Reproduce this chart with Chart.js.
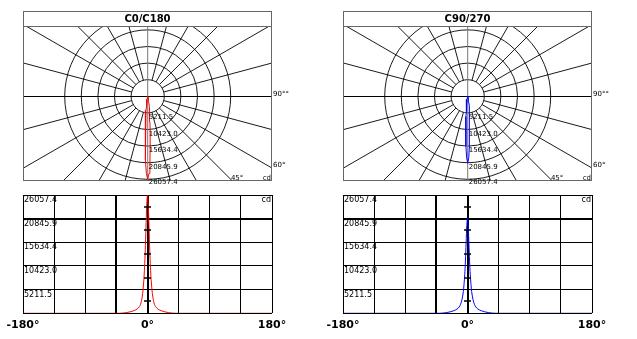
<!DOCTYPE html>
<html>
<head>
<meta charset="utf-8">
<script src="https://cdn.jsdelivr.net/npm/chart.js@4.4.0/dist/chart.umd.min.js"></script>
<style>
  html, body { margin: 0; padding: 0; background: #fff; }
  body { width: 637px; height: 339px; position: relative; overflow: hidden; }
  canvas { position: absolute; }
</style>
</head>
<body>
<canvas id="polarC0" width="275" height="180" style="left:20px;top:8px"></canvas>
<canvas id="polarC90" width="275" height="180" style="left:340px;top:8px"></canvas>
<canvas id="gammaC0" width="320" height="151" style="left:0;top:188px"></canvas>
<canvas id="gammaC90" width="320" height="151" style="left:320px;top:188px"></canvas>
<script>
const FONT = 'DejaVu Sans';

// gamma angles (deg), negative side = C180 / C270
const gammaAngles = [-180, -90, -60, -45, -40, -35, -30, -25, -20, -15, -12, -10, -8, -7, -6, -5, -4, -3, -2, -1,
  0, 1, 2, 3, 4, 5, 6, 7, 8, 10, 12, 15, 20, 25, 30, 35, 40, 45, 60, 90, 180];

// luminous intensity, cd
const intensityC0 = [0, 0, 0, 0, 10, 60, 160, 330, 560, 950, 1400, 2000, 3300, 4400, 6000, 8000, 11000, 15000, 20000, 24200,
  26057.4, 24200, 20000, 15000, 11000, 8000, 6000, 4400, 3300, 2000, 1400, 950, 560, 330, 160, 60, 10, 0, 0, 0, 0];
const intensityC90 = [0, 0, 0, 0, 10, 60, 160, 330, 560, 950, 1400, 2000, 3000, 3800, 4800, 6400, 8500, 11500, 15500, 19300,
  21000, 19300, 15500, 11500, 8500, 6400, 4800, 3800, 3000, 2000, 1400, 950, 560, 330, 160, 60, 10, 0, 0, 0, 0];

const ringValues = [5211.48, 10422.96, 15634.44, 20845.92, 26057.4];
const cdTicks = [0, 5211.48, 10422.96, 15634.44, 20845.92, 26057.4];
const gammaTicks = [-180, -135, -90, -45, 0, 45, 90, 135, 180];
const gammaTickLabels = ['-180°', '', '', '', '0°', '', '', '', '180°'];

// polar grid: rings, 15° spokes, axes, value labels and frame
const polarGrid = {
  id: 'polarGrid',
  beforeDatasetsDraw(chart) {
    const { ctx, chartArea: a, scales: { x, y } } = chart;
    const cx = x.getPixelForValue(0);
    const cy = y.getPixelForValue(0);
    const rad = v => x.getPixelForValue(v) - cx;
    ctx.save();
    ctx.beginPath();
    ctx.rect(a.left, a.top, a.width, a.height);
    ctx.clip();
    ctx.strokeStyle = '#000';
    ctx.lineWidth = 0.9;
    ringValues.forEach(v => {
      ctx.beginPath();
      ctx.arc(cx, cy, rad(v), 0, Math.PI * 2);
      ctx.stroke();
    });
    const r0 = rad(ringValues[0]);
    for (let deg = 15; deg < 360; deg += 15) {
      if (deg % 90 === 0) continue;
      const t = deg * Math.PI / 180;
      ctx.beginPath();
      ctx.moveTo(cx + r0 * Math.cos(t), cy + r0 * Math.sin(t));
      ctx.lineTo(cx + 400 * Math.cos(t), cy + 400 * Math.sin(t));
      ctx.stroke();
    }
    ctx.lineWidth = 1;
    const hy = Math.round(cy) + 0.5;
    ctx.beginPath();
    ctx.moveTo(a.left, hy);
    ctx.lineTo(a.right, hy);
    ctx.stroke();
    ctx.strokeStyle = '#777';
    ctx.beginPath();
    ctx.moveTo(cx, a.top);
    ctx.lineTo(cx, a.bottom);
    ctx.stroke();
    ctx.restore();
  },
  afterDraw(chart) {
    const { ctx, chartArea: a, scales: { x, y } } = chart;
    const cx = x.getPixelForValue(0);
    const cy = y.getPixelForValue(0);
    const top = chart.titleBlock ? chart.titleBlock.top : a.top - 15;
    ctx.save();
    ctx.strokeStyle = '#666';
    ctx.lineWidth = 1;
    ctx.strokeRect(a.left + 0.5, Math.round(top) + 0.5, a.width - 1, a.bottom - Math.round(top) - 1);
    ctx.beginPath();
    ctx.moveTo(a.left, Math.round(a.top) + 0.5);
    ctx.lineTo(a.right, Math.round(a.top) + 0.5);
    ctx.stroke();

    ctx.fillStyle = '#000';
    ctx.font = '7px ' + FONT;
    ctx.textAlign = 'left';
    ctx.textBaseline = 'top';
    ringValues.forEach(v => {
      const ry = Math.min(y.getPixelForValue(-v) + 1, a.bottom - 2.5);
      ctx.fillText(v.toFixed(1), cx + 1, ry);
    });

    ctx.textBaseline = 'alphabetic';
    ctx.fillText('90°°', a.right + 1, cy - 0.5);
    const y60 = cy + (a.right - cx) / Math.tan(Math.PI / 3);
    ctx.fillText('60°', a.right + 1, y60 - 1);
    const x45 = cx + (a.bottom - cy);
    ctx.fillText('45°', x45 - 1.5, a.bottom - 1.2);
    ctx.textAlign = 'right';
    ctx.fillText('cd', a.right - 1, a.bottom - 1.2);
    ctx.restore();
  }
};

function polarChart(id, title, values, color) {
  return new Chart(document.getElementById(id), {
    type: 'scatter',
    data: {
      datasets: [{
        data: gammaAngles.map((g, i) => ({
          x: values[i] * Math.sin(g * Math.PI / 180),
          y: -values[i] * Math.cos(g * Math.PI / 180)
        })),
        showLine: true,
        borderColor: color,
        borderWidth: 1,
        pointRadius: 0,
        tension: 0
      }]
    },
    options: {
      responsive: false,
      animation: false,
      devicePixelRatio: 1,
      layout: { padding: { left: 3, top: 3, right: 23, bottom: 7 } },
      scales: {
        x: { type: 'linear', display: false, min: -39148, max: 39023 },
        y: { type: 'linear', display: false, min: -26591, max: 22070 }
      },
      plugins: {
        legend: { display: false },
        tooltip: { enabled: false },
        title: {
          display: true,
          text: title,
          color: '#000',
          font: { family: FONT, size: 10, weight: 'bold' },
          padding: { top: 2, bottom: 1 }
        }
      }
    },
    plugins: [polarGrid]
  });
}

// half-step marks on the 0° axis, bottom edge and unit
const gammaMarks = {
  id: 'gammaMarks',
  afterDatasetsDraw(chart) {
    const { ctx, chartArea: a, scales: { x, y } } = chart;
    const x0 = x.getPixelForValue(0);
    ctx.save();
    ctx.strokeStyle = '#000';
    ctx.lineWidth = 1.5;
    for (let i = 1; i < cdTicks.length; i++) {
      const py = Math.round(y.getPixelForValue((cdTicks[i] + cdTicks[i - 1]) / 2));
      ctx.beginPath();
      ctx.moveTo(x0 - 3.5, py);
      ctx.lineTo(x0 + 3.5, py);
      ctx.stroke();
    }
    ctx.lineWidth = 1;
    const by = Math.round(y.getPixelForValue(0)) + 0.5;
    ctx.beginPath();
    ctx.moveTo(a.left, by);
    ctx.lineTo(a.right, by);
    ctx.stroke();
    ctx.fillStyle = '#000';
    ctx.font = '8px ' + FONT;
    ctx.textAlign = 'right';
    ctx.textBaseline = 'middle';
    ctx.fillText('cd', a.right - 1, a.top + 5);
    ctx.restore();
  }
};

function gammaChart(id, values, color) {
  return new Chart(document.getElementById(id), {
    type: 'scatter',
    data: {
      datasets: [{
        data: gammaAngles.map((g, i) => ({ x: g, y: values[i] })),
        showLine: true,
        borderColor: color,
        borderWidth: 1,
        pointRadius: 0,
        cubicInterpolationMode: 'monotone'
      }]
    },
    options: {
      responsive: false,
      animation: false,
      devicePixelRatio: 1,
      layout: { padding: { left: 21, top: 7, right: 48, bottom: 2.5 } },
      scales: {
        x: {
          type: 'linear',
          min: -180,
          max: 180,
          afterBuildTicks: s => { s.ticks = gammaTicks.map(v => ({ value: v })); },
          border: { display: false },
          grid: {
            color: '#000',
            drawTicks: false,
            lineWidth: c => (c.tick && (c.tick.value === 0 || c.tick.value === -45)) ? 2 : 1
          },
          ticks: {
            autoSkip: false,
            maxRotation: 0,
            padding: 5,
            color: '#000',
            font: { family: FONT, size: 11, weight: 'bold' },
            callback: (v, i) => gammaTickLabels[i]
          }
        },
        y: {
          type: 'linear',
          min: 0,
          max: 26057.4,
          afterBuildTicks: s => { s.ticks = cdTicks.map(v => ({ value: v })); },
          border: { display: false },
          grid: {
            color: '#000',
            drawTicks: false,
            lineWidth: c => (c.tick && c.index === 4) ? 2 : 1
          },
          ticks: {
            mirror: true,
            padding: 1,
            labelOffset: 5,
            color: '#000',
            font: { family: FONT, size: 8 },
            callback: (v, i) => i === 0 ? '' : cdTicks[i].toFixed(1)
          }
        }
      },
      plugins: {
        legend: { display: false },
        tooltip: { enabled: false }
      }
    },
    plugins: [gammaMarks]
  });
}

polarChart('polarC0', 'C0/C180', intensityC0, '#ff0000');
polarChart('polarC90', 'C90/270', intensityC90, '#0000ff');
gammaChart('gammaC0', intensityC0, '#ff0000');
gammaChart('gammaC90', intensityC90, '#0000ff');
</script>
</body>
</html>
